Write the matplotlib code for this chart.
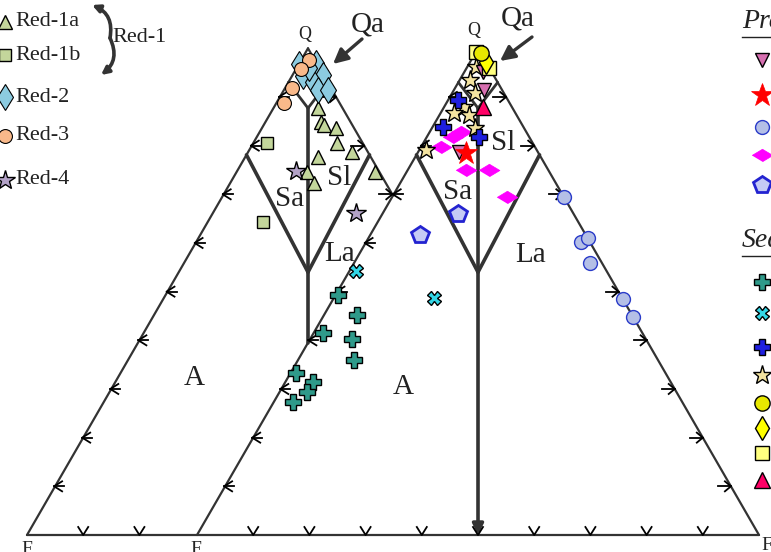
import numpy as np
import matplotlib
matplotlib.use("Agg")
import matplotlib.pyplot as plt

plt.rcParams["font.family"] = ["Liberation Serif", "DejaVu Serif"]

# ---- data: compositions in % (Q, F, R) ----
# left diagram (Red samples)
red1a = [(87.7, 4.4, 7.9), (84.9, 5.2, 9.9), (84.2, 5.1, 10.7), (83.6, 3.2, 13.2),
         (80.5, 4.6, 14.9), (78.7, 2.9, 18.4), (77.7, 9.3, 13.0), (74.6, 12.9, 12.5),
         (72.3, 12.8, 14.9), (74.6, 0.8, 24.6)]
red1b = [(80.5, 17.1, 2.4), (64.3, 25.9, 9.8)]
red2 = [(96.8, 3.2, 0.0), (94.3, 3.8, 1.9), (97.0, 0.0, 3.0), (94.5, 0.0, 5.5),
        (93.1, 2.5, 4.4), (91.4, 2.5, 6.1), (91.4, 0.7, 7.9), (96.0, 1.8, 2.2)]
red3 = [(97.6, 1.0, 1.4), (95.7, 3.4, 0.9), (91.8, 6.9, 1.3), (88.8, 9.9, 1.3)]
red4 = [(74.8, 14.7, 10.5), (66.2, 8.4, 25.4)]
se_plus_teal = [(49.3, 20.1, 30.6), (45.2, 18.7, 36.1), (41.5, 26.6, 31.9),
                (40.3, 22.0, 37.7), (36.0, 23.8, 40.2), (33.3, 35.4, 31.3),
                (31.4, 33.4, 35.2), (29.4, 35.5, 35.1), (27.3, 39.1, 33.6)]
se_x_cyan = [(54.2, 14.4, 31.4), (48.7, 3.3, 48.0)]

# right diagram
pr_tri = [(95.1, 1.5, 3.4), (91.4, 3.3, 5.3), (78.7, 14.0, 7.3)]
pr_star = [(78.5, 12.8, 8.7)]
pr_circle = [(69.5, 0.0, 30.5), (60.2, 1.5, 38.3), (61.0, 0.0, 39.0),
             (55.9, 2.2, 41.9), (48.5, 0.0, 51.5), (44.8, 0.1, 55.1)]
pr_diamond = [(82.8, 11.6, 5.6), (81.8, 13.5, 4.7), (79.7, 16.7, 3.6),
              (75.0, 14.7, 10.3), (75.0, 10.6, 14.4), (69.4, 10.2, 20.4)]
pr_pentagon = [(66.0, 20.5, 13.5), (61.6, 29.6, 8.8)]
se_plus_blue = [(89.4, 8.8, 1.8), (83.8, 14.3, 1.9), (81.8, 9.0, 9.2)]
se_star = [(96.2, 2.2, 1.6), (93.5, 4.7, 1.8), (90.8, 5.2, 4.0), (87.9, 8.5, 3.6),
           (86.7, 10.9, 2.4), (86.3, 8.4, 5.3), (83.6, 8.8, 7.6), (79.1, 19.7, 1.2)]
se_circle = [(99.0, 0.0, 1.0)]
se_diamond = [(97.2, 0.0, 2.8)]
se_square = [(99.2, 0.8, 0.0), (96.0, 0.0, 4.0)]
se_triangle = [(87.9, 5.1, 7.0)]

red_labels = ["Red-1a", "Red-1b", "Red-2", "Red-3", "Red-4"]

# field boundaries (fraction of Q)
Q_SA = 0.781   # Sa / Sl upper limit on the edges
Q_MID = 0.540  # where the Sa/Sl lines meet
Q_QA = 0.93    # Qa boundary on the edges
Q_TOP = 0.877  # top of the central line

# ---- geometry ----
H = np.sqrt(3) / 2
SHIFT = 0.3025
PX = 1 / 562
LC = "#333333"


def px(x, y):
    return (x - 27) * PX, (535 - y) * PX


def tern(pts, off=0.0):
    a = np.asarray(pts, float)
    s = a.sum(1)
    return off + (a[:, 2] + 0.5 * a[:, 0]) / s, H * a[:, 0] / s


def ledge(q, off):
    return off + 0.5 * q, H * q


def redge(q, off):
    return off + 1 - 0.5 * q, H * q


fig = plt.figure(figsize=(7.71, 5.52), dpi=100)
ax = fig.add_axes([0, 0, 1, 1])
x0, y1 = px(0, 0)
x1, y0 = px(771, 552)
ax.set_xlim(x0, x1)
ax.set_ylim(y0, y1)
ax.axis("off")


def seg(p1, p2, lw=1.6):
    ax.plot([p1[0], p2[0]], [p1[1], p2[1]], color=LC, lw=lw,
            solid_capstyle="round", zorder=2)


def tick_left(p):
    x, y = p
    ax.plot([x + 7 * PX, x - 1 * PX, x + 7 * PX], [y + 5 * PX, y, y - 5 * PX],
            color="k", lw=1.3, zorder=2)
    ax.plot([x - 1 * PX, x + 9 * PX], [y, y], color="k", lw=1.3, zorder=2)


def tick_right(p):
    x, y = p
    ax.plot([x - 13 * PX, x], [y, y], color="k", lw=1.3, zorder=2)
    ax.plot([x - 6 * PX, x, x - 6 * PX], [y + 5 * PX, y, y - 5 * PX],
            color="k", lw=1.3, zorder=2)


def tick_bottom(x):
    ax.plot([x - 5 * PX, x, x + 5 * PX], [8 * PX, 0, 8 * PX],
            color="k", lw=1.3, zorder=2)


# outlines
q_cut = 0.6975  # left diagram's right edge meets right diagram's left edge
seg((0, 0), ledge(1, 0))
seg(ledge(1, 0), redge(q_cut, 0))
seg((0, 0), (1 + SHIFT, 0))
seg((SHIFT, 0), ledge(1, SHIFT))
seg(ledge(1, SHIFT), (1 + SHIFT, 0))

# field lines
for off in (0, SHIFT):
    mid = (off + 0.5, H * Q_MID)
    top = (off + 0.5, H * Q_TOP)
    seg(ledge(Q_SA, off), mid, 2.6)
    seg(redge(Q_SA, off), mid, 2.6)
    seg(ledge(Q_QA, off), top, 2.0)
    seg(redge(Q_QA, off), top, 2.0)
seg((0.5, H * Q_TOP), (0.5, H * 0.395), 2.6)
ax.annotate("", xy=(SHIFT + 0.5, 0), xytext=(SHIFT + 0.5, H * Q_TOP),
            arrowprops=dict(arrowstyle="-|>", lw=2.6, color=LC,
                            mutation_scale=16, shrinkA=0, shrinkB=0), zorder=2)

# ticks
steps = np.arange(1, 10) / 10
for q in steps:
    tick_left(ledge(q, 0))
    tick_left(ledge(q, SHIFT))
    tick_right(redge(q, SHIFT))
    tick_bottom(SHIFT + q)
for q in (0.7, 0.8, 0.9):
    tick_right(redge(q, 0))
for q in (0.1, 0.2):
    tick_bottom(q)


# labels
def lab(x, y, s, size, **kw):
    ax.text(*px(x, y), s, fontsize=size, ha="center", va="center",
            color="#222222", zorder=5, **kw)


lab(305, 34, "Q", 13)
lab(474, 30, "Q", 13)
lab(368, 24, "Qa", 21)
lab(518, 18, "Qa", 21)
lab(290, 199, "Sa", 21)
lab(339, 178, "Sl", 21)
lab(340, 254, "La", 21)
lab(194, 378, "A", 21)
lab(458, 192, "Sa", 21)
lab(503, 143, "Sl", 21)
lab(531, 255, "La", 21)
lab(403, 387, "A", 21)
lab(27, 549, "F", 14)
lab(196, 549, "F", 14)
lab(767, 546, "F", 14)

for a, b in [((362, 39), (333, 64)), ((532, 37), (500, 61))]:
    ax.annotate("", xy=px(*b), xytext=px(*a),
                arrowprops=dict(arrowstyle="-|>", lw=2.4, color=LC,
                                mutation_scale=22, shrinkA=0, shrinkB=0))

# ---- points ----
styles = [
    (red1a, 0, dict(marker="^", ms=10, mfc="#c3d69b", mec="k", mew=1.0)),
    (red1b, 0, dict(marker="s", ms=9, mfc="#c3d69b", mec="k", mew=1.0)),
    (red2, 0, dict(marker="d", ms=13, mfc="#8ccbe0", mec="k", mew=0.8)),
    (red3, 0, dict(marker="o", ms=10, mfc="#f9b98a", mec="k", mew=0.8)),
    (red4, 0, dict(marker="*", ms=15, mfc="#b3a2c7", mec="k", mew=1.0)),
    (se_plus_teal, 0, dict(marker="P", ms=12, mfc="#2f9a8a", mec="k", mew=1.0)),
    (se_x_cyan, 0, dict(marker="X", ms=10, mfc="#33d6e6", mec="k", mew=1.0)),
    (pr_circle, SHIFT, dict(marker="o", ms=10, mfc="#b4bfe6", mec="#2a3bc9", mew=1.0)),
    (pr_pentagon, SHIFT, dict(marker="p", ms=13, mfc="#c5cbf5", mec="#2323d0", mew=2.0)),
    (pr_diamond, SHIFT, dict(marker=[(-1, 0), (0, 0.6), (1, 0), (0, -0.6)], ms=15,
                             mfc="#ff00ff", mec="#ff00ff", mew=0.5)),
    (se_star, SHIFT, dict(marker="*", ms=14, mfc="#f3e3a0", mec="k", mew=1.0)),
    (se_plus_blue, SHIFT, dict(marker="P", ms=11, mfc="#1f1fe0", mec="k", mew=1.0)),
    (pr_tri, SHIFT, dict(marker="v", ms=10, mfc="#d66fb0", mec="k", mew=1.0)),
    (pr_star, SHIFT, dict(marker="*", ms=17, mfc="#ff0000", mec="#ff0000", mew=0.5)),
    (se_triangle, SHIFT, dict(marker="^", ms=11, mfc="#ff0066", mec="k", mew=1.0)),
    (se_square, SHIFT, dict(marker="s", ms=10, mfc="#ffff80", mec="k", mew=1.0)),
    (se_diamond, SHIFT, dict(marker="d", ms=12, mfc="#ffff00", mec="k", mew=1.0)),
    (se_circle, SHIFT, dict(marker="o", ms=11, mfc="#e8e800", mec="k", mew=1.0)),
]
for pts, off, st in styles:
    x, y = tern(pts, off)
    ax.plot(x, y, ls="none", zorder=4, **st)

# ---- left legend ----
rows = [22, 55, 97, 136, 180]
for (pts, off, st), lbl, yy in zip(styles[:5], red_labels, rows):
    ax.plot(*px(5, yy), ls="none", zorder=4, **st)
    ax.text(*px(15, yy), lbl, fontsize=16, ha="left", va="center", color="#222222")
ax.text(*px(112, 38), "Red-1", fontsize=16, ha="left", va="center", color="#222222")
mid = px(110, 38)
ax.annotate("", xy=px(92, 5), xytext=mid,
            arrowprops=dict(arrowstyle="-|>", lw=2.6, color=LC, mutation_scale=11,
                            shrinkA=0, shrinkB=0, connectionstyle="arc3,rad=0.4"))
ax.annotate("", xy=px(101, 75), xytext=mid,
            arrowprops=dict(arrowstyle="-|>", lw=2.6, color=LC, mutation_scale=11,
                            shrinkA=0, shrinkB=0, connectionstyle="arc3,rad=-0.4"))

# ---- right legend (cut by the frame) ----
ax.text(*px(742, 22), "Previous", fontsize=20, style="italic", ha="left",
        va="center", color="#222222")
ax.text(*px(742, 240), "Sediments", fontsize=20, style="italic", ha="left",
        va="center", color="#222222")
for yy in (37, 256):
    ax.plot(*zip(px(742, yy), px(775, yy)), color="#222222", lw=1.0)
leg_right = [(pr_tri, 60), (pr_star, 95), (pr_circle, 127), (pr_diamond, 155),
             (pr_pentagon, 185), (se_plus_teal, 282), (se_x_cyan, 313),
             (se_plus_blue, 347), (se_star, 375), (se_circle, 403),
             (se_diamond, 428), (se_square, 453), (se_triangle, 480)]
lookup = {id(p): st for p, off, st in styles}
for pts, yy in leg_right:
    ax.plot(*px(762, yy), ls="none", zorder=4, **lookup[id(pts)])

fig.savefig("out.png", dpi=100)
